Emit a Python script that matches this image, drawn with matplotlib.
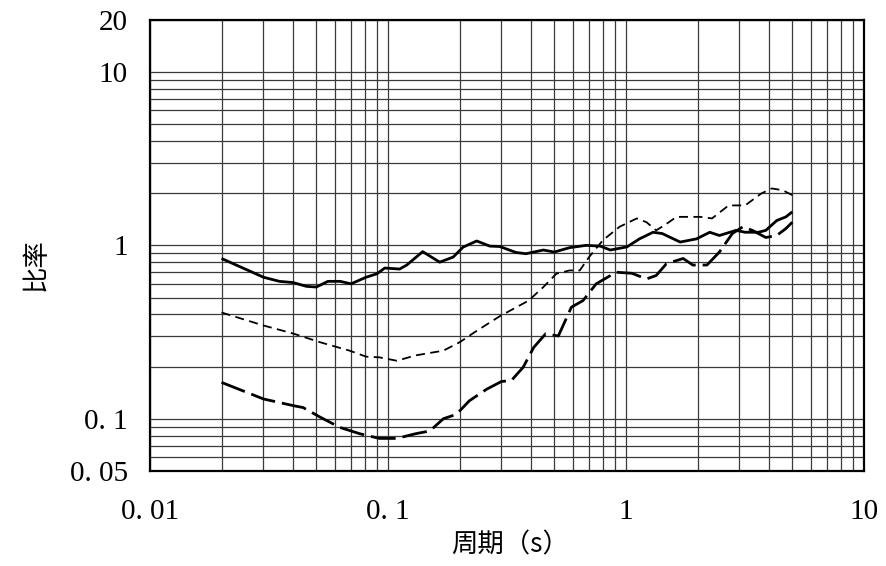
import matplotlib
matplotlib.use("Agg")
import matplotlib.pyplot as plt
from matplotlib.ticker import FixedLocator, LogLocator, NullFormatter

# period (s) and ratio values
t_solid = [0.02, 0.03, 0.035, 0.04, 0.0455, 0.05, 0.056, 0.063, 0.07, 0.081, 0.09, 0.097,
           0.112, 0.12, 0.14, 0.165, 0.188, 0.207, 0.236, 0.268, 0.295, 0.345, 0.38, 0.45,
           0.50, 0.58, 0.68, 0.78, 0.86, 1.01, 1.14, 1.30, 1.42, 1.69, 1.98, 2.25, 2.47,
           2.90, 3.17, 3.6, 3.87, 4.3, 4.7, 5.0]
v_solid = [0.84, 0.655, 0.62, 0.61, 0.58, 0.575, 0.62, 0.62, 0.60, 0.655, 0.686, 0.74,
           0.73, 0.77, 0.92, 0.80, 0.856, 0.977, 1.06, 0.99, 0.985, 0.91, 0.895, 0.94,
           0.915, 0.97, 1.0, 0.99, 0.94, 0.98, 1.09, 1.19, 1.17, 1.045, 1.09, 1.19, 1.14,
           1.22, 1.19, 1.19, 1.22, 1.39, 1.46, 1.56]

t_short = [0.02, 0.03, 0.04, 0.052, 0.069, 0.081, 0.092, 0.109, 0.131, 0.171, 0.20, 0.235,
           0.295, 0.39, 0.45, 0.51, 0.58, 0.64, 0.70, 0.80, 0.94, 1.11, 1.22, 1.34, 1.48,
           1.63, 2.05, 2.3, 2.7, 3.17, 3.7, 4.1, 4.55, 5.0]
v_short = [0.41, 0.345, 0.31, 0.276, 0.247, 0.228, 0.226, 0.216, 0.232, 0.247, 0.276, 0.32,
           0.39, 0.48, 0.575, 0.686, 0.717, 0.717, 0.856, 1.07, 1.28, 1.43, 1.36, 1.22, 1.33,
           1.46, 1.46, 1.43, 1.70, 1.70, 1.99, 2.13, 2.08, 1.95]

t_long = [0.02, 0.03, 0.04, 0.044, 0.052, 0.063, 0.076, 0.092, 0.109, 0.131, 0.15, 0.171,
          0.194, 0.22, 0.26, 0.30, 0.33, 0.37, 0.41, 0.46, 0.52, 0.59, 0.66, 0.75, 0.91,
          1.06, 1.22, 1.34, 1.48, 1.74, 1.91, 2.19, 2.47, 2.8, 3.1, 3.4, 3.87, 4.3, 4.7, 5.0]
v_long = [0.162, 0.13, 0.119, 0.116, 0.102, 0.089, 0.082, 0.077, 0.077, 0.082, 0.085, 0.10,
          0.106, 0.127, 0.148, 0.164, 0.166, 0.198, 0.258, 0.309, 0.30, 0.44, 0.48, 0.60, 0.70,
          0.69, 0.64, 0.67, 0.784, 0.84, 0.77, 0.77, 0.915, 1.17, 1.28, 1.22, 1.11, 1.14, 1.25, 1.36]

x_ticks = [0.01, 0.1, 1, 10]
x_labels = ["0. 01", "0. 1", "1", "10"]
y_ticks = [0.05, 0.1, 1, 10, 20]
y_labels = ["0. 05", "0. 1", "1", "10", "20"]

fig = plt.figure(figsize=(8.87, 5.66), dpi=100)
ax = fig.add_axes([0.169, 0.168, 0.805, 0.797])

ax.plot(t_solid, v_solid, color="black", lw=2.0, solid_capstyle="butt")
ax.plot(t_short, v_short, color="black", lw=1.3, dashes=(5, 3))
ax.plot(t_long, v_long, color="black", lw=2.0, dashes=(9, 2.5))

ax.set_xscale("log")
ax.set_yscale("log")
ax.set_xlim(0.01, 10)
ax.set_ylim(0.05, 20)

ax.xaxis.set_major_locator(FixedLocator(x_ticks))
ax.yaxis.set_major_locator(FixedLocator(y_ticks))
ax.xaxis.set_minor_locator(LogLocator(base=10, subs=range(2, 10)))
ax.yaxis.set_minor_locator(LogLocator(base=10, subs=range(2, 10)))
ax.xaxis.set_minor_formatter(NullFormatter())
ax.yaxis.set_minor_formatter(NullFormatter())

serif = {"family": "Liberation Serif", "size": 21}
ax.set_xticklabels(x_labels, fontdict=serif)
ax.set_yticklabels(y_labels, fontdict=serif)
ax.tick_params(which="both", length=0)
ax.tick_params(axis="x", pad=20)
ax.tick_params(axis="y", pad=16)

ax.grid(True, which="both", color="#3a3a3a", lw=0.9)
ax.set_axisbelow(True)
for s in ax.spines.values():
    s.set_linewidth(1.6)
    s.set_color("black")

cjk = ["Noto Sans CJK SC", "DejaVu Sans"]
fig.text(510 / 887, 1 - 545 / 566, "周期（s）", family=cjk, fontsize=19,
         ha="center", va="center")
fig.text(36 / 887, 1 - 265 / 566, "比率", family=cjk, fontsize=19,
         ha="center", va="center", rotation=90)

fig.savefig("out.png", dpi=100)
